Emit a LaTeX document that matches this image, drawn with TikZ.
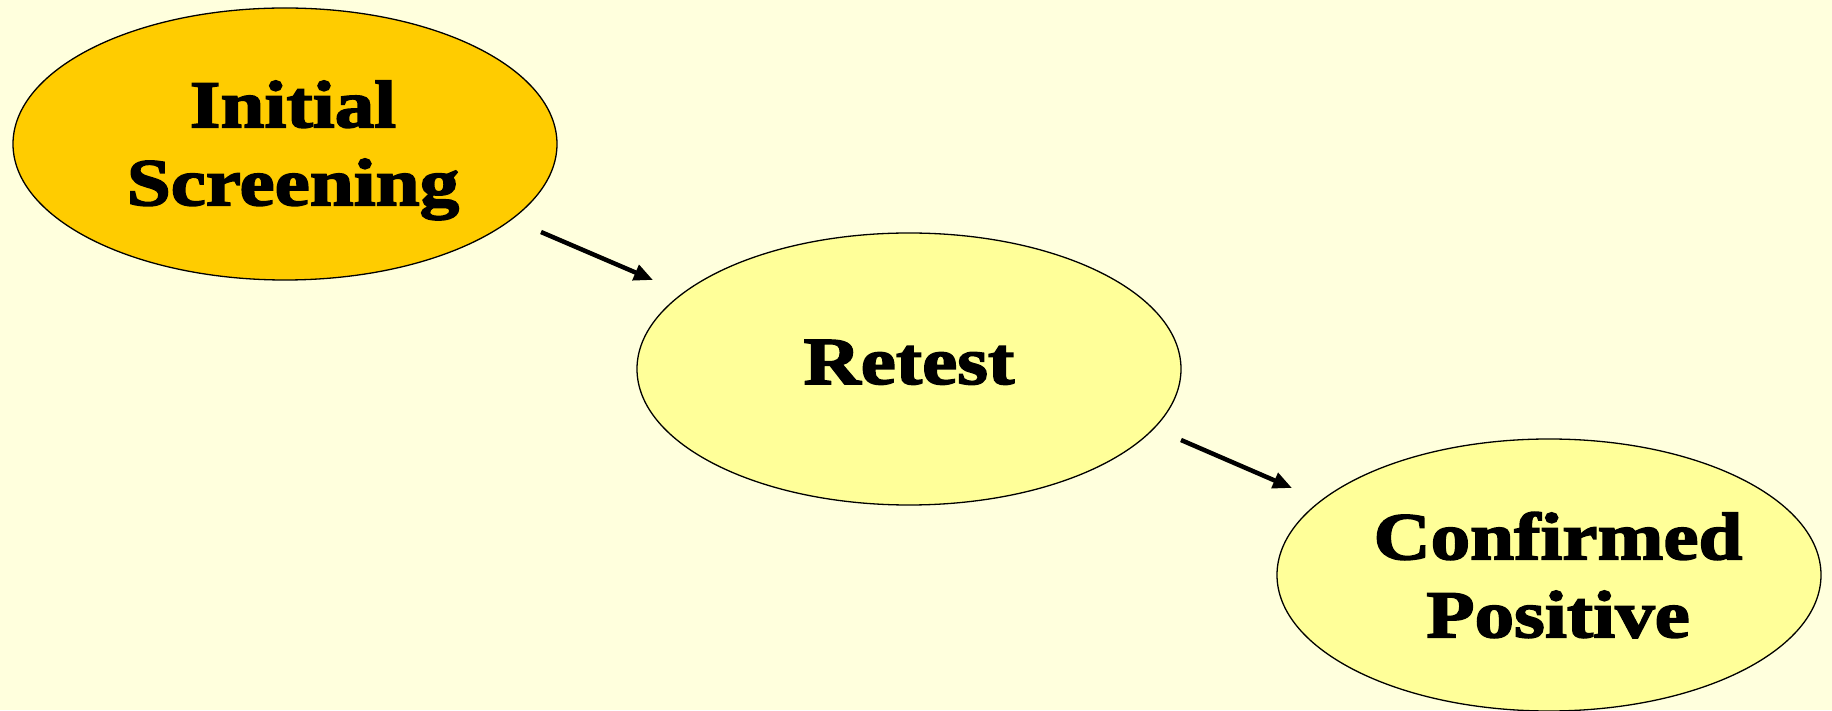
\documentclass[tikz,border=0pt]{standalone}
\usepackage{fontspec}
\usetikzlibrary{shapes.geometric,arrows.meta}
\newfontfamily\lab{Liberation Serif Bold}[FakeBold=2.5,FakeStretch=1.18]
\definecolor{pagebg}{RGB}{255,255,221}
\definecolor{gold}{RGB}{255,204,0}
\definecolor{paleyellow}{RGB}{255,255,153}
\tikzset{
  stage/.style={ellipse, draw=black, line width=1.3pt, minimum width=544pt,
    minimum height=272pt, inner sep=0pt},
  caption/.style={inner sep=0pt, align=center,
    font=\lab\fontsize{67}{78}\selectfont},
  flow/.style={line width=4.5pt, -{Triangle[length=19pt,width=16pt]}}
}
\begin{document}
\begin{tikzpicture}[x=1pt,y=1pt]
  \fill[pagebg] (0,0) rectangle (1832,710);
  \useasboundingbox (0,0) rectangle (1832,710);
  % stages
  \node[stage, fill=gold] (init) at (285,566) {};
  \node[stage, fill=paleyellow] (retest) at (909,341) {};
  \node[stage, fill=paleyellow] (conf) at (1549,135) {};
  % stage names
  \node[caption, text depth=2pt] (initlbl) at ([xshift=8pt]init.center) {Initial\\Screening};
  \node[caption, text depth=14pt] (retestlbl) at (retest.center) {Retest};
  \node[caption] (conflbl) at ([xshift=9pt]conf.center) {Confirmed\\Positive};
  % flow between stages
  \draw[flow] ([shift={(256pt,-88pt)}]init.center) -- ([shift={(-256pt,89pt)}]retest.center);
  \draw[flow] ([shift={(272pt,-71pt)}]retest.center) -- ([shift={(-257pt,87pt)}]conf.center);
\end{tikzpicture}
\end{document}
